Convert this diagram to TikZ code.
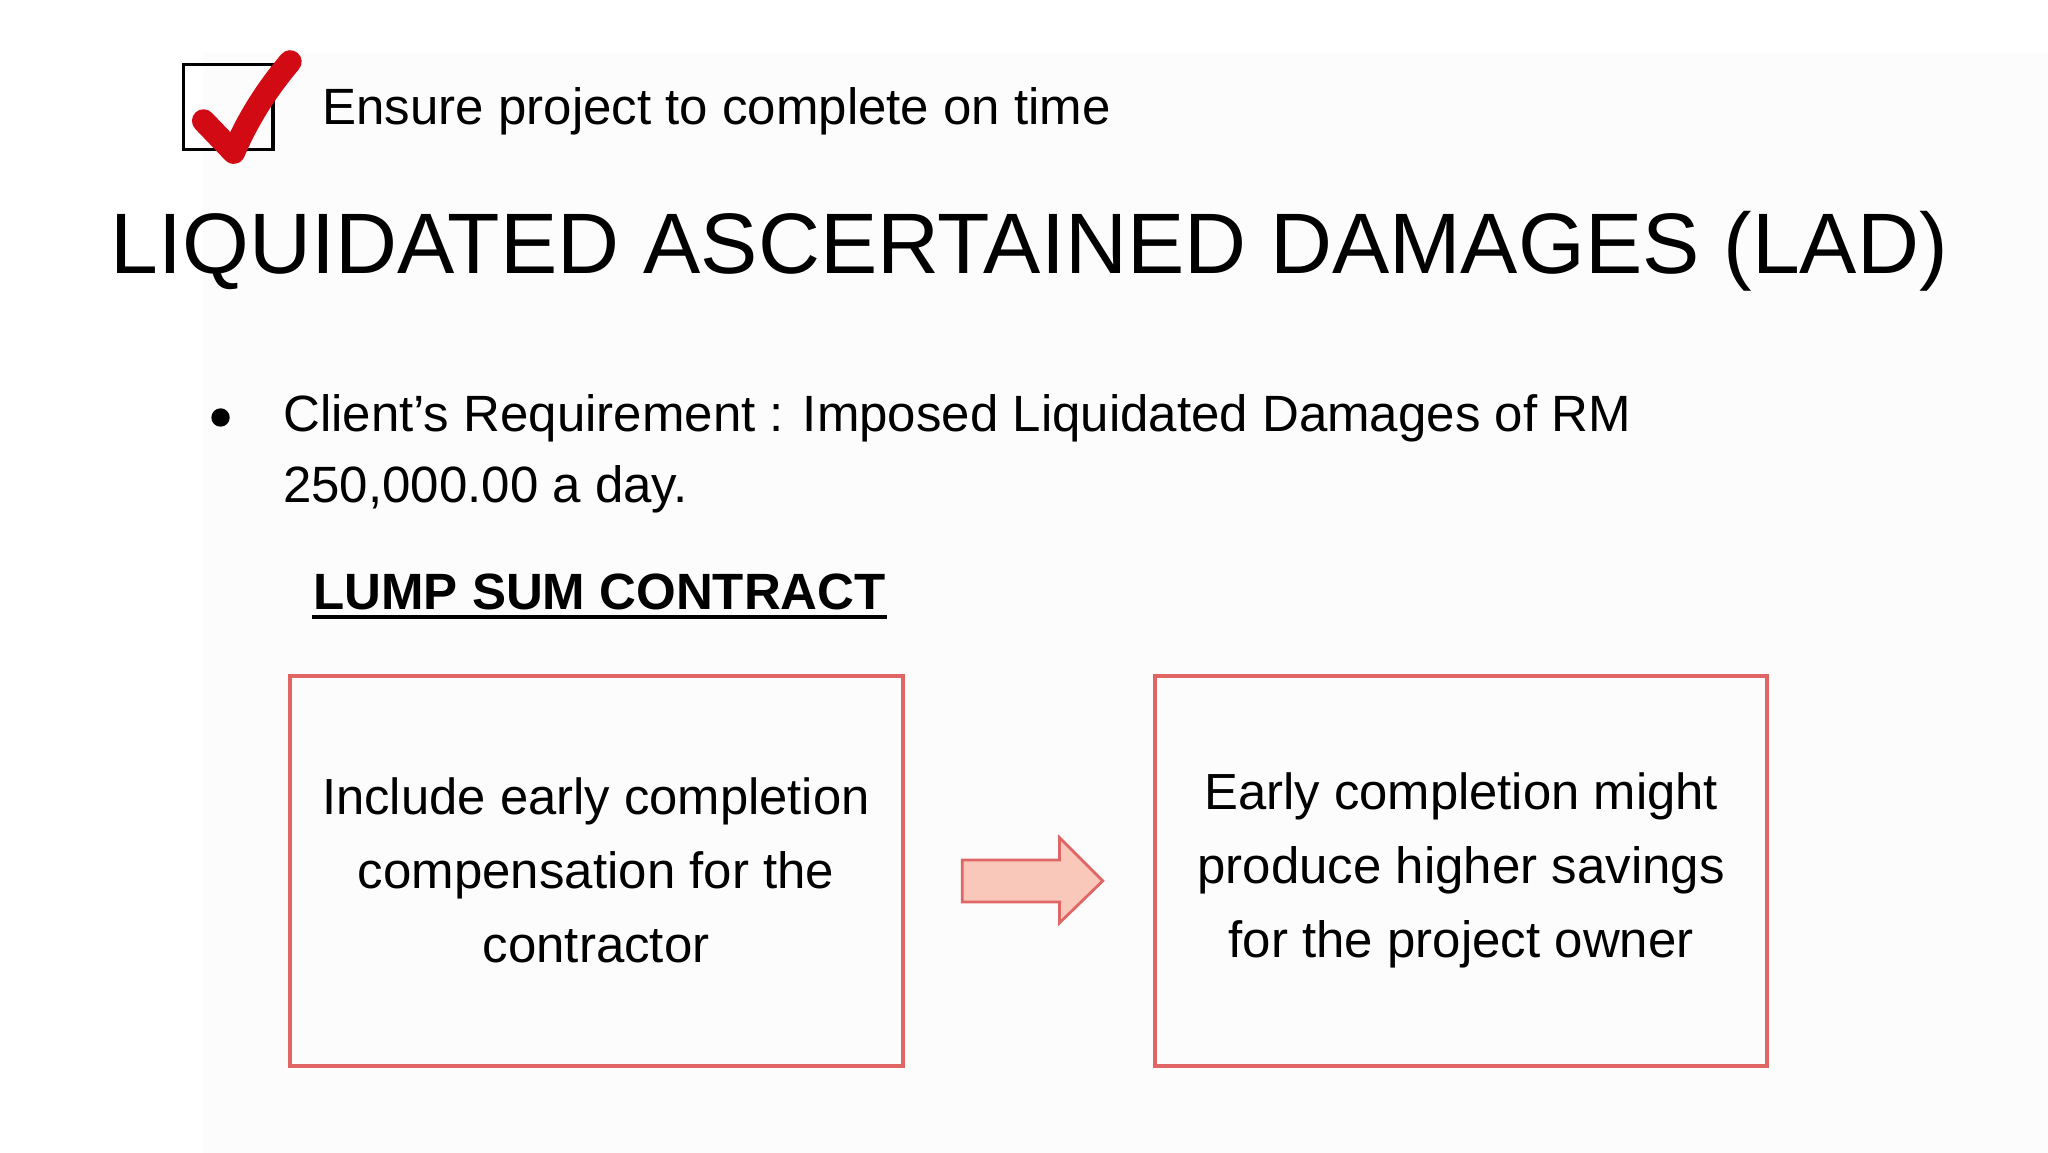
\documentclass[tikz,border=0pt]{standalone}
\usepackage{fontspec}
\setmainfont{Liberation Sans}
\definecolor{boxred}{RGB}{224,102,102}
\definecolor{arrowfill}{RGB}{250,200,186}
\definecolor{checkred}{RGB}{210,10,20}
\begin{document}
\begin{tikzpicture}[x=0.01cm,y=-0.01cm,
  body/.style={font=\fontsize{11.05}{16}\selectfont,inner sep=0},
  redbox/.style={draw=boxred,line width=0.9pt}]
\useasboundingbox (0,0) rectangle (1560,878);
\fill[white] (0,0) rectangle (1560,878);
\fill[black!1] (155,40) rectangle (1560,878);
% checkbox
\draw[line width=0.7pt] (140,49) rectangle (208,114);
\draw[checkred,line width=5pt,line cap=round,line join=round] (155,92) -- (178,116) .. controls (190,88) and (205,66) .. (221,47);
\node[body,anchor=base west] (ensure) at (245,95) {Ensure project to complete on time};
\node[font=\fontsize{18.6}{24}\selectfont,inner sep=0,anchor=base] (title) at (784,208) {LIQUIDATED ASCERTAINED DAMAGES (LAD)};
\fill (168,318) circle (7);
\node[body,anchor=base west,align=left] (req) at (215,329) {Client’s Requirement : Imposed Liquidated Damages of RM};
\node[body,anchor=base west] (req2) at (215,383) {250,000.00 a day.};
\node[body,font=\fontsize{11.05}{16}\selectfont\bfseries,anchor=base west] (lump) at (238,464) {LUMP SUM CONTRACT};
\draw[line width=1pt] (lump.base west) ++(0,6) -- ([yshift=-6*0.01cm]lump.base east);
\draw[redbox] (221,515) rectangle (688,812);
\node[body,align=center] (left) at (454,663) {\fontsize{11}{18.5}\selectfont Include early completion\\compensation for the\\contractor};
\draw[redbox] (880,515) rectangle (1346,812);
\node[body,align=center] (right) at (1113,663) {\fontsize{11}{18.5}\selectfont Early completion might\\produce higher savings\\for the project owner};
\draw[boxred,fill=arrowfill,line width=0.6pt] (733,655) -- (807,655) -- (807,638) -- (840,671) -- (807,703) -- (807,687) -- (733,687) -- cycle;
\end{tikzpicture}
\end{document}
